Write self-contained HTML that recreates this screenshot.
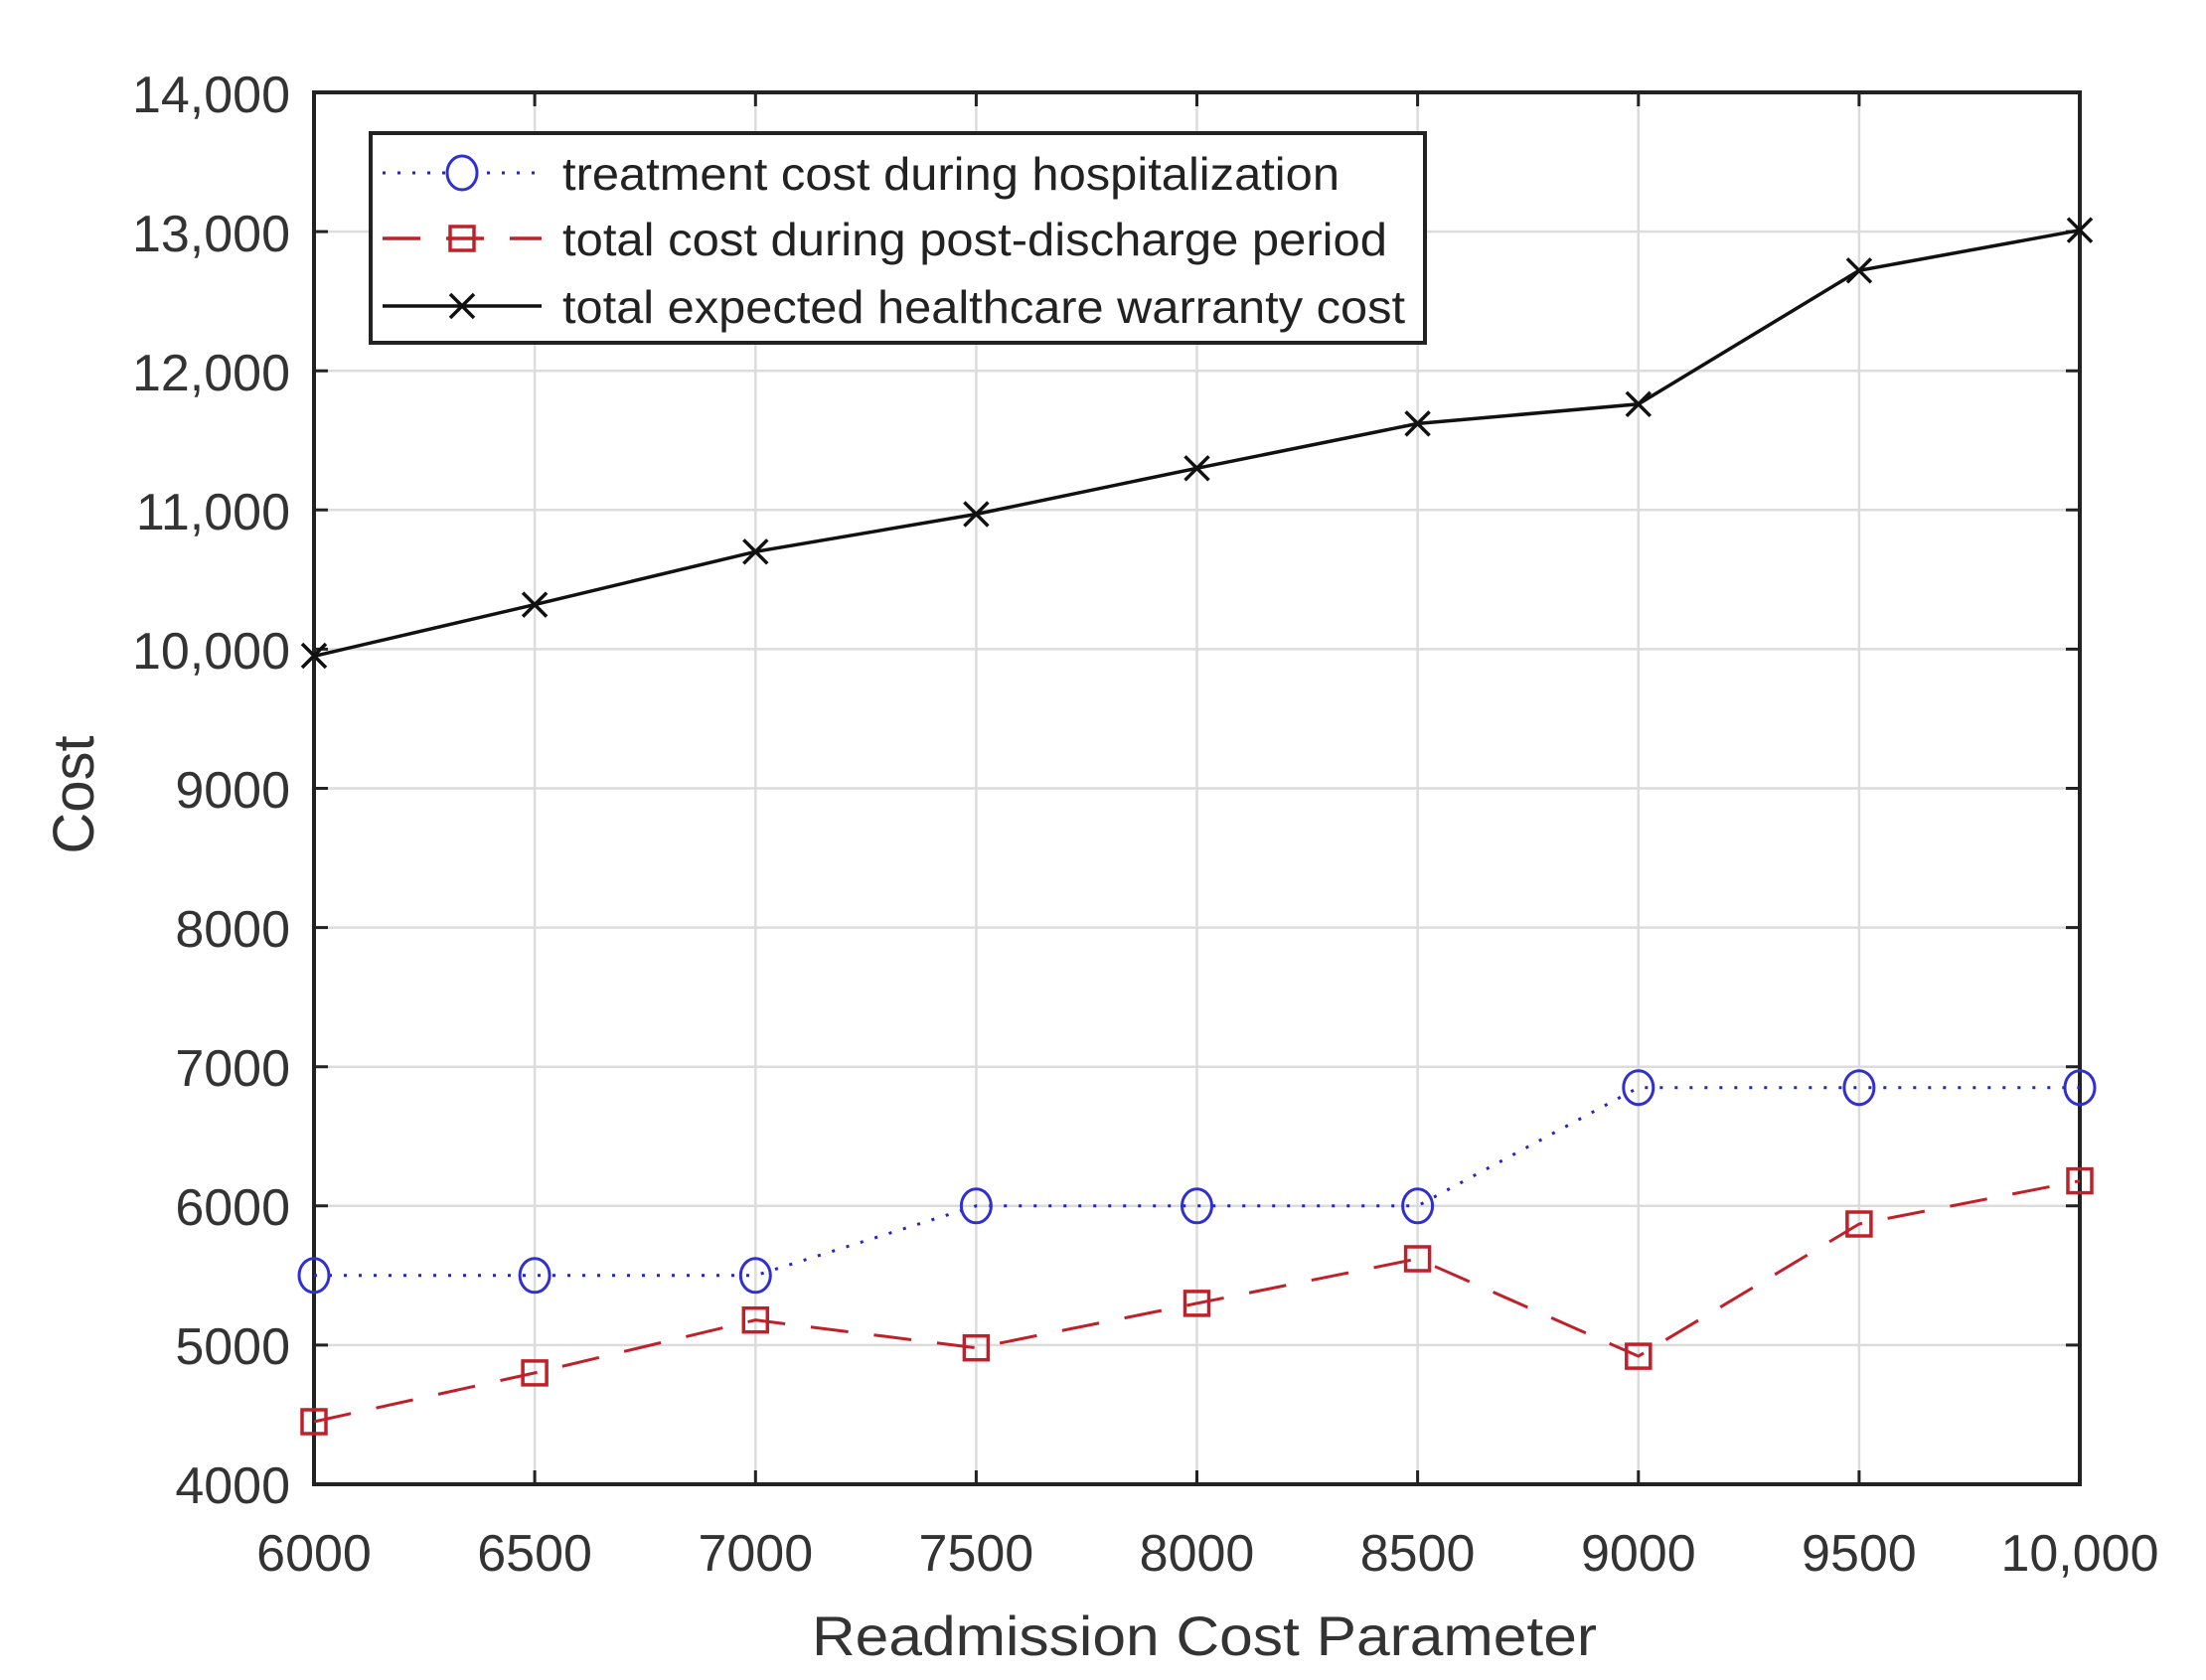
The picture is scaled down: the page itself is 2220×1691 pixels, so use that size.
<!DOCTYPE html>
<html><head><meta charset="utf-8"><style>html,body{margin:0;padding:0;background:#fff}svg{display:block}</style></head>
<body>
<svg width="2220" height="1691" viewBox="0 0 2220 1691" xmlns="http://www.w3.org/2000/svg" font-family="Liberation Sans, Arial, sans-serif">
<rect width="2220" height="1691" fill="#fff"/>
<g stroke="#dcdcdc" stroke-width="2.5">
<line x1="538.1" y1="93" x2="538.1" y2="1494"/><line x1="760.3" y1="93" x2="760.3" y2="1494"/><line x1="982.4" y1="93" x2="982.4" y2="1494"/><line x1="1204.5" y1="93" x2="1204.5" y2="1494"/><line x1="1426.6" y1="93" x2="1426.6" y2="1494"/><line x1="1648.8" y1="93" x2="1648.8" y2="1494"/><line x1="1870.9" y1="93" x2="1870.9" y2="1494"/>
<line x1="316" y1="1353.9" x2="2093" y2="1353.9"/><line x1="316" y1="1213.8" x2="2093" y2="1213.8"/><line x1="316" y1="1073.7" x2="2093" y2="1073.7"/><line x1="316" y1="933.6" x2="2093" y2="933.6"/><line x1="316" y1="793.5" x2="2093" y2="793.5"/><line x1="316" y1="653.4" x2="2093" y2="653.4"/><line x1="316" y1="513.3" x2="2093" y2="513.3"/><line x1="316" y1="373.2" x2="2093" y2="373.2"/><line x1="316" y1="233.1" x2="2093" y2="233.1"/>
</g>
<g stroke="#222" stroke-width="3">
<path d="M538.1 1494v-14M760.3 1494v-14M982.4 1494v-14M1204.5 1494v-14M1426.6 1494v-14M1648.8 1494v-14M1870.9 1494v-14"/>
<path d="M538.1 93v14M760.3 93v14M982.4 93v14M1204.5 93v14M1426.6 93v14M1648.8 93v14M1870.9 93v14"/>
<path d="M316 1353.9h14M316 1213.8h14M316 1073.7h14M316 933.6h14M316 793.5h14M316 653.4h14M316 513.3h14M316 373.2h14M316 233.1h14"/>
<path d="M2093 1353.9h-14M2093 1213.8h-14M2093 1073.7h-14M2093 933.6h-14M2093 793.5h-14M2093 653.4h-14M2093 513.3h-14M2093 373.2h-14M2093 233.1h-14"/>
<rect x="316" y="93" width="1777" height="1401" fill="none" stroke-width="4"/>
</g>
<polyline fill="none" stroke="#2424c8" stroke-width="3" stroke-dasharray="3 12" points="316,1283.8 538.1,1283.8 760.3,1283.8 982.4,1213.8 1204.5,1213.8 1426.6,1213.8 1648.8,1094.7 1870.9,1094.7 2093,1094.7"/>
<g fill="none" stroke="#3030d0" stroke-width="3">
<ellipse cx="316" cy="1283.8" rx="15" ry="17"/><ellipse cx="538.1" cy="1283.8" rx="15" ry="17"/><ellipse cx="760.3" cy="1283.8" rx="15" ry="17"/><ellipse cx="982.4" cy="1213.8" rx="15" ry="17"/><ellipse cx="1204.5" cy="1213.8" rx="15" ry="17"/><ellipse cx="1426.6" cy="1213.8" rx="15" ry="17"/><ellipse cx="1648.8" cy="1094.7" rx="15" ry="17"/><ellipse cx="1870.9" cy="1094.7" rx="15" ry="17"/><ellipse cx="2093" cy="1094.7" rx="15" ry="17"/>
</g>
<polyline fill="none" stroke="#c0202a" stroke-width="3" stroke-dasharray="38 26" points="316,1431 538.1,1381.9 760.3,1328.7 982.4,1356.7 1204.5,1311.9 1426.6,1267 1648.8,1365.1 1870.9,1232 2093,1188.6"/>
<g fill="none" stroke="#c0202a" stroke-width="3.5">
<rect x="304" y="1419" width="24" height="24"/><rect x="526.1" y="1369.9" width="24" height="24"/><rect x="748.3" y="1316.7" width="24" height="24"/><rect x="970.4" y="1344.7" width="24" height="24"/><rect x="1192.5" y="1299.9" width="24" height="24"/><rect x="1414.6" y="1255" width="24" height="24"/><rect x="1636.8" y="1353.1" width="24" height="24"/><rect x="1858.9" y="1220" width="24" height="24"/><rect x="2081" y="1176.6" width="24" height="24"/>
</g>
<polyline fill="none" stroke="#111" stroke-width="3.5" points="316,660.4 538.1,608.6 760.3,555.3 982.4,517.5 1204.5,471.3 1426.6,426.4 1648.8,406.8 1870.9,272.3 2093,231.7"/>
<g stroke="#111" stroke-width="3.5" fill="none">
<path d="M304 648l24 24M304 672l24-24"/><path d="M526.1 596.6l24 24M526.1 620.6l24-24"/><path d="M748.3 543.3l24 24M748.3 567.3l24-24"/><path d="M970.4 505.5l24 24M970.4 529.5l24-24"/><path d="M1192.5 459.3l24 24M1192.5 483.3l24-24"/><path d="M1414.6 414.4l24 24M1414.6 438.4l24-24"/><path d="M1636.8 394.8l24 24M1636.8 418.8l24-24"/><path d="M1858.9 260.3l24 24M1858.9 284.3l24-24"/><path d="M2081 219.7l24 24M2081 243.7l24-24"/>
</g>
<rect x="373" y="134" width="1061" height="211" fill="#fff" stroke="#222" stroke-width="4"/>
<line x1="385" y1="174" x2="545" y2="174" stroke="#2424c8" stroke-width="3" stroke-dasharray="3 12"/>
<ellipse cx="465" cy="174" rx="15" ry="17" fill="#fff" stroke="#3030d0" stroke-width="3"/>
<line x1="385" y1="240" x2="545" y2="240" stroke="#c0202a" stroke-width="3.5" stroke-dasharray="38 26"/>
<rect x="453" y="228" width="24" height="24" fill="none" stroke="#c0202a" stroke-width="3.5"/>
<line x1="385" y1="308" x2="545" y2="308" stroke="#111" stroke-width="3.5"/>
<path d="M453 296l24 24M453 320l24-24" stroke="#111" stroke-width="3.5"/>
<g font-size="46" fill="#222">
<text x="566" y="191" textLength="782" lengthAdjust="spacingAndGlyphs">treatment cost during hospitalization</text>
<text x="566" y="257" textLength="830" lengthAdjust="spacingAndGlyphs">total cost during post-discharge period</text>
<text x="566" y="325" textLength="848" lengthAdjust="spacingAndGlyphs">total expected healthcare warranty cost</text>
</g>
<g font-size="52" fill="#333" text-anchor="end">
<text x="292" y="1513">4000</text><text x="292" y="1373">5000</text><text x="292" y="1233">6000</text><text x="292" y="1093">7000</text><text x="292" y="953">8000</text><text x="292" y="813">9000</text><text x="292" y="673">10,000</text><text x="292" y="533">11,000</text><text x="292" y="393">12,000</text><text x="292" y="253">13,000</text><text x="292" y="113">14,000</text>
</g>
<g font-size="52" fill="#333" text-anchor="middle">
<text x="316" y="1581">6000</text><text x="538.1" y="1581">6500</text><text x="760.3" y="1581">7000</text><text x="982.4" y="1581">7500</text><text x="1204.5" y="1581">8000</text><text x="1426.6" y="1581">8500</text><text x="1648.8" y="1581">9000</text><text x="1870.9" y="1581">9500</text><text x="2093" y="1581">10,000</text>
</g>
<text x="1212" y="1666" font-size="56" fill="#333" text-anchor="middle" textLength="790" lengthAdjust="spacingAndGlyphs">Readmission Cost Parameter</text>
<text x="0" y="0" font-size="58" fill="#333" text-anchor="middle" transform="translate(94,800) rotate(-90)">Cost</text>
</svg>
</body></html>
